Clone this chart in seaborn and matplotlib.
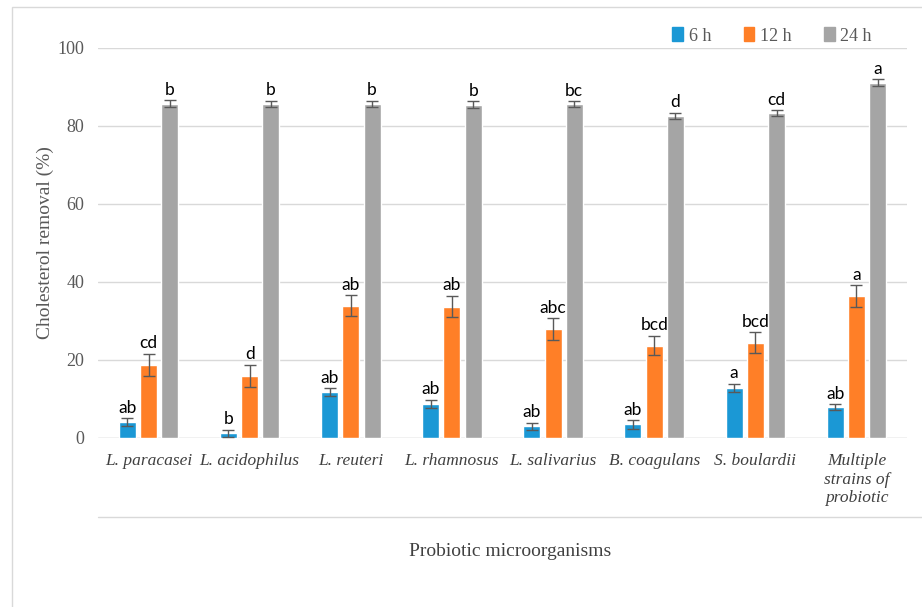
import numpy as np
import pandas as pd
import matplotlib
matplotlib.use("Agg")
import matplotlib.pyplot as plt
import seaborn as sns
from matplotlib.patches import Rectangle
from matplotlib.lines import Line2D

# categorie e valori
strains = ["L. paracasei", "L. acidophilus", "L. reuteri", "L. rhamnosus",
           "L. salivarius", "B. coagulans", "S. boulardii",
           "Multiple\nstrains of\nprobiotic"]
times = ["6 h", "12 h", "24 h"]

removal_6h = [4.1, 1.2, 11.8, 8.8, 3.0, 3.5, 12.9, 7.9]
removal_12h = [18.8, 16.0, 33.9, 33.7, 28.0, 23.7, 24.4, 36.4]
removal_24h = [85.7, 85.7, 85.7, 85.4, 85.6, 82.6, 83.3, 91.1]

err_6h = [1.0, 0.9, 1.0, 1.0, 0.9, 1.1, 1.0, 0.8]
err_12h = [2.8, 2.8, 2.7, 2.8, 2.8, 2.5, 2.7, 2.8]
err_24h = [0.9, 0.8, 0.8, 0.9, 0.8, 0.8, 0.8, 0.9]

letters_6h = ["ab", "b", "ab", "ab", "ab", "ab", "a", "ab"]
letters_12h = ["cd", "d", "ab", "ab", "abc", "bcd", "bcd", "a"]
letters_24h = ["b", "b", "b", "b", "bc", "d", "cd", "a"]

colors = ["#1B98D5", "#FF7F27", "#A5A5A5"]

df = pd.DataFrame({
    "strain": strains * 3,
    "time": np.repeat(times, len(strains)),
    "value": removal_6h + removal_12h + removal_24h,
    "err": err_6h + err_12h + err_24h,
    "letter": letters_6h + letters_12h + letters_24h,
})

sns.set_style("white")
plt.rcParams["font.family"] = ["Liberation Serif", "DejaVu Serif"]

fig = plt.figure(figsize=(9.22, 6.07), dpi=100)
ax = fig.add_axes([98 / 922, 1 - 438 / 607, 809 / 922, 390 / 607])

sns.barplot(data=df, x="strain", y="value", hue="time", palette=colors,
            width=0.63, gap=0.2, errorbar=None, ax=ax, legend=False,
            saturation=1, zorder=3)

# barre di errore e lettere di significatività sopra ogni barra
bars = [p for p in ax.patches if p.get_height() > 0]
for p, (_, row) in zip(bars, df.iterrows()):
    xc = p.get_x() + p.get_width() / 2
    ax.errorbar(xc, row["value"], yerr=row["err"], fmt="none",
                ecolor="#595959", elinewidth=1, capsize=4, capthick=1, zorder=4)
    ax.text(xc, row["value"] + row["err"] + 0.6, row["letter"],
            ha="center", va="bottom", fontsize=12.5, color="black",
            family=["Lato", "DejaVu Sans"], zorder=5)

ax.set_ylim(0, 100)
ax.set_xlim(-0.5, len(strains) - 0.5)
ax.set_yticks([0, 20, 40, 60, 80, 100])
ax.yaxis.grid(True, color="#D9D9D9", linewidth=1, zorder=0)
ax.set_axisbelow(True)
for s in ax.spines.values():
    s.set_visible(False)
ax.axhline(0, color="#D9D9D9", linewidth=1, zorder=2)
ax.tick_params(axis="y", length=0, labelsize=13, colors="#595959", pad=10)
ax.tick_params(axis="x", length=0, labelsize=12.5, colors="#404040", pad=11)
for lbl in ax.get_xticklabels():
    lbl.set_fontstyle("italic")
    lbl.set_verticalalignment("top")
ax.set_xlabel("")
ax.set_ylabel("Cholesterol removal (%)", fontsize=14, color="#595959", labelpad=2)

# titolo dell'asse x e linea orizzontale sotto le etichette
fig.text(510 / 922, 1 - 551 / 607, "Probiotic microorganisms", ha="center",
         va="center", fontsize=14, color="#404040")
fig.add_artist(Line2D([98 / 922, 1.0], [1 - 517 / 607] * 2, color="#D9D9D9", lw=1))

# cornice esterna
fig.add_artist(Rectangle((12 / 922, -0.02), 1.0, 1 - 7 / 607 + 0.02,
                         transform=fig.transFigure, fill=False,
                         edgecolor="#D9D9D9", lw=1))

handles = [Rectangle((0, 0), 1, 1, color=c) for c in colors]
fig.legend(handles, times, loc="center", bbox_to_anchor=(772 / 922, 1 - 36 / 607),
           ncol=3, frameon=False, fontsize=13, handlelength=0.6, handleheight=0.8,
           handletextpad=0.3, columnspacing=1.8, labelcolor="#595959")

fig.savefig("out.png", dpi=100)
